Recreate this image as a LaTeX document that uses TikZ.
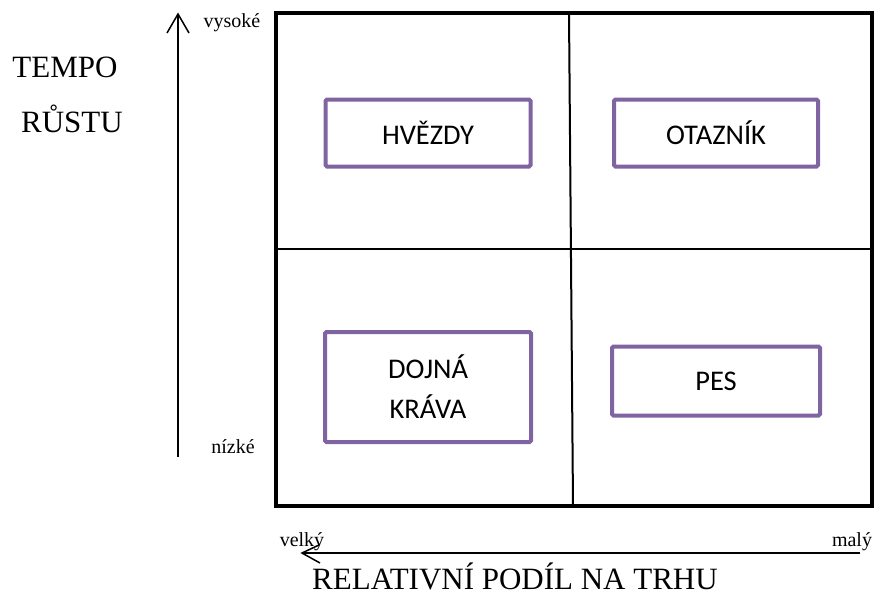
\documentclass[tikz,border=0pt]{standalone}
\usepackage{fontspec}
\setmainfont{Liberation Serif}
\newfontfamily\boxfont{Carlito}
\definecolor{boxpurple}{HTML}{8064A2}
\tikzset{
  frame/.style={line width=4pt, line join=miter},
  divider/.style={line width=2pt},
  quadbox/.style={draw=boxpurple, line width=4pt, rounded corners=1.5pt, fill=white,
    font=\boxfont\fontsize{28.5}{40}\selectfont, align=center, inner sep=0pt},
  axisline/.style={line width=1.6pt},
  barb/.style={line width=1.5pt, line join=miter},
  biglabel/.style={font=\fontsize{31}{37}\selectfont, inner sep=0pt, anchor=base},
  smalllabel/.style={font=\fontsize{20}{24}\selectfont, inner sep=0pt, anchor=base},
}
\begin{document}
\begin{tikzpicture}[x=1pt,y=-1pt]
\useasboundingbox (0,0) rectangle (874,594);
% frame
\coordinate (fTL) at (276,13);
\coordinate (fBR) at (872,506);
\draw[frame] (fTL) rectangle (fBR);
\coordinate (vTop) at (569,13);
\coordinate (vBot) at (573,506);
\coordinate (hL) at (276,249);
\coordinate (hR) at (872,249);
\draw[divider] (vTop) -- (vBot);
\draw[divider] (hL) -- (hR);
% boxes
\node[quadbox, minimum width=205pt, minimum height=67pt] (hvezdy) at (428,133) {HVĚZDY};
\node[quadbox, minimum width=204pt, minimum height=67pt] (otaznik) at (716,133) {OTAZNÍK};
\node[quadbox, minimum width=206pt, minimum height=110pt] (dojna) at (428,387) {DOJNÁ\\KRÁVA};
\node[quadbox, minimum width=208pt, minimum height=69pt] (pes) at (716,381) {PES};
% vertical axis
\coordinate (vaBot) at (178,457);
\coordinate (vaTop) at (178,14);
\coordinate (vaBarbL) at (167,33);
\coordinate (vaBarbR) at (189,33);
\draw[axisline] (vaBot) -- (vaTop);
\draw[barb] (vaBarbL) -- (vaTop) -- (vaBarbR);
\node[smalllabel] (vysoke) at (232,28) {vysoké};
\node[smalllabel] (nizke) at (233,453) {nízké};
\node[biglabel] (tempo) at (65,77) {TEMPO};
\node[biglabel] (rustu) at (72,132) {RŮSTU};
% horizontal axis
\coordinate (haR) at (860,553);
\coordinate (haL) at (302,553);
\coordinate (haBarbU) at (319,545);
\coordinate (haBarbD) at (320,563);
\draw[axisline] (haR) -- (haL);
\draw[barb] (haBarbU) -- (haL) -- (haBarbD);
\node[smalllabel] (velky) at (302,546) {velký};
\node[smalllabel] (maly) at (852,546) {malý};
\node[biglabel] (rel) at (515,589) {RELATIVNÍ PODÍL NA TRHU};
\end{tikzpicture}
\end{document}
